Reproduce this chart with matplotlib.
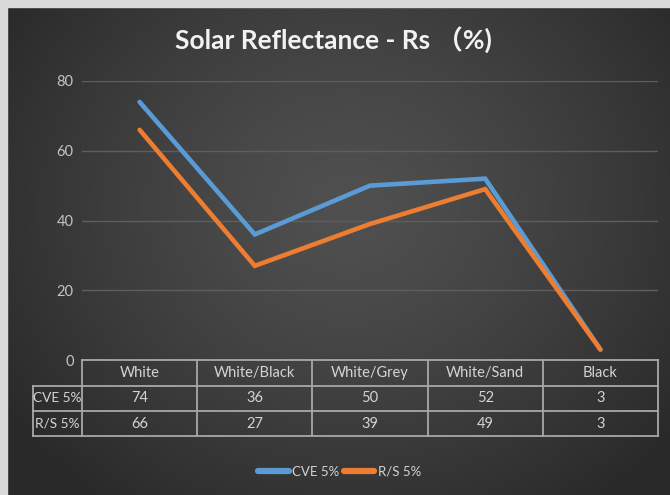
import matplotlib
matplotlib.use("Agg")
import matplotlib.pyplot as plt
import numpy as np
from matplotlib.transforms import blended_transform_factory

categories = ["White", "White/Black", "White/Grey", "White/Sand", "Black"]
series_names = ["CVE 5%", "R/S 5%"]
cve = [74, 36, 50, 52, 3]
rs = [66, 27, 39, 49, 3]
yticks = [0, 20, 40, 60, 80]

colors = ["#5b9bd5", "#ed7d31"]
txt = "#d4d4d4"
font = ["Lato", "DejaVu Sans"]
plt.rcParams["font.family"] = font

W, H = 670, 495
fig = plt.figure(figsize=(W / 100, H / 100), dpi=100)

# background radial gradient
bg = fig.add_axes([0, 0, 1, 1], zorder=-10)
yy, xx = np.mgrid[0:H, 0:W]
cx, cy = 0.52 * W, 0.42 * H
d = np.sqrt(((xx - cx) / (0.62 * W)) ** 2 + ((yy - cy) / (0.75 * H)) ** 2)
d = np.clip(d, 0, 1)
c0, c1 = 0x50 / 255, 0x29 / 255
img = c0 + (c1 - c0) * d ** 1.3
bg.imshow(np.dstack([img, img, img]), extent=[0, W, H, 0], aspect="auto")
# grey frame on left and top
bg.add_patch(plt.Rectangle((0, 0), 7, H, color="#d9d9d9"))
bg.add_patch(plt.Rectangle((0, 0), W, 7, color="#d9d9d9"))
bg.set_xlim(0, W)
bg.set_ylim(H, 0)
bg.axis("off")

L, R, T, B = 82, 658, 81, 360
ax = fig.add_axes([L / W, 1 - B / H, (R - L) / W, (B - T) / H])
ax.set_facecolor("none")
x = np.arange(len(categories))
for vals, c in zip([cve, rs], colors):
    ax.plot(x, vals, color=c, lw=3.3, solid_capstyle="round", solid_joinstyle="miter", zorder=3)
ax.set_xlim(-0.5, len(categories) - 0.5)
ax.set_ylim(0, 80)
ax.set_yticks(yticks)
ax.set_yticklabels([str(v) for v in yticks], color="#c4c4c4", fontsize=10.5)
ax.tick_params(axis="y", length=0, pad=6)
ax.set_xticks([])
ax.grid(axis="y", color="#5e5e5e", lw=1)
for s in ax.spines.values():
    s.set_visible(False)

# data table below the axes
tr = blended_transform_factory(ax.transData, ax.transAxes)
ph = B - T
rows_y = [0, -26 / ph, -51 / ph, -76 / ph]
lc = "#a8a8a8"
lab_left = -0.5 - (L - 33) / ((R - L) / len(categories))
kw = dict(color=lc, lw=1.3, transform=tr, clip_on=False)
ax.plot([-0.5, 4.5], [rows_y[0]] * 2, **kw)
for yv in rows_y[1:]:
    ax.plot([lab_left, 4.5], [yv, yv], **kw)
for xv in np.arange(-0.5, len(categories), 1.0):
    ax.plot([xv, xv], [rows_y[0], rows_y[3]], **kw)
ax.plot([lab_left, lab_left], [rows_y[1], rows_y[3]], **kw)
for i, cat in enumerate(categories):
    ax.text(i, (rows_y[0] + rows_y[1]) / 2, cat, transform=tr, ha="center", va="center",
            color=txt, fontsize=10.5)
for r, (name, vals) in enumerate(zip(series_names, [cve, rs])):
    yc = (rows_y[r + 1] + rows_y[r + 2]) / 2
    ax.text((lab_left - 0.5) / 2, yc, name, transform=tr, ha="center", va="center",
            color=txt, fontsize=9.8)
    for i, v in enumerate(vals):
        ax.text(i, yc, str(v), transform=tr, ha="center", va="center", color=txt, fontsize=10.5)

fig.text(0.497, 1 - 40 / H, "Solar Reflectance - Rs （%)", ha="center", va="center",
         color="#f2f2f2", fontsize=19, fontweight="bold",
         family=["Lato", "Noto Sans CJK SC", "DejaVu Sans"])

handles = [plt.Line2D([], [], color=c, lw=4.5, solid_capstyle="round") for c in colors]
leg = fig.legend(handles, series_names, loc="center", bbox_to_anchor=(0.507, 1 - 472 / H),
                 ncol=2, frameon=False, handlelength=2.3, handletextpad=0.3,
                 columnspacing=0.3, fontsize=9.5)
for t in leg.get_texts():
    t.set_color(txt)

fig.savefig("out.png", dpi=100)
